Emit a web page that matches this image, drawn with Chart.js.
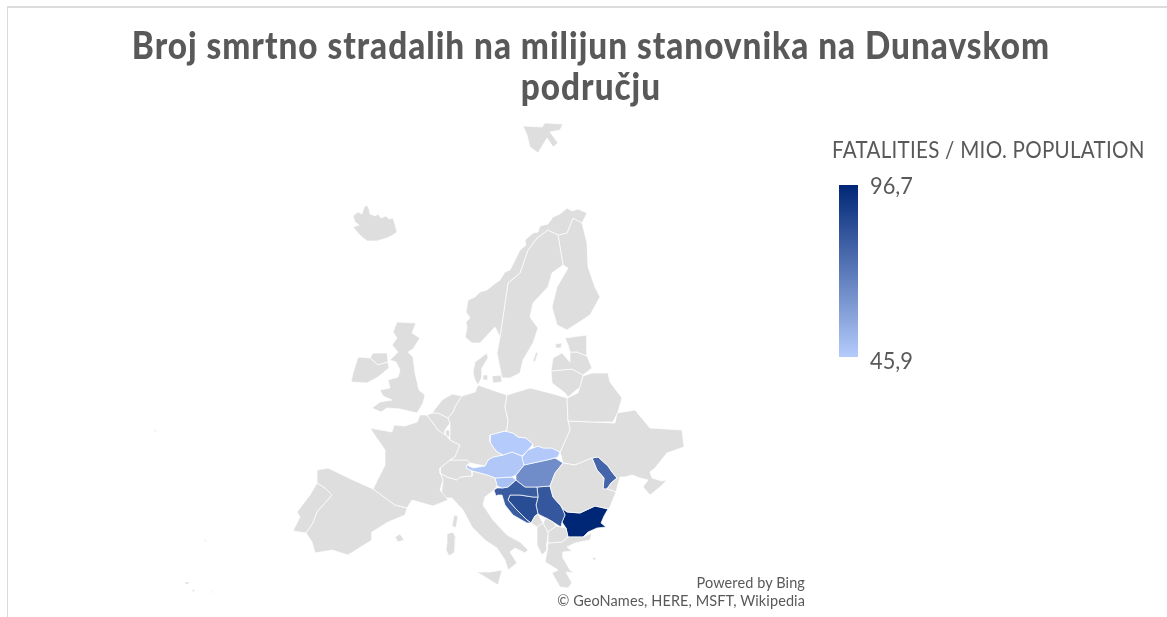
<!DOCTYPE html>
<html>
<head>
<meta charset="utf-8">
<script src="https://cdn.jsdelivr.net/npm/chart.js@4"></script>
<style>
    html, body { margin: 0; padding: 0; background: #fff; }
    #wrap { position: relative; width: 1167px; height: 617px; overflow: hidden; font-family: Lato, sans-serif; color: #595959; }
    #wrap div, #wrap h1 { position: absolute; margin: 0; white-space: nowrap; }
    #frame { left: 7px; top: 6px; width: 1160px; height: 611px; border-left: 1px solid #d9d9d9; border-top: 2px solid #dcdcdc; box-sizing: border-box; }
    #title { left: 0; width: 1182px; top: 24px; text-align: center; font-size: 37px; line-height: 41px; font-weight: 900; letter-spacing: 1.1px; transform: scaleX(0.9); transform-origin: 591px 0; }
    #legendTitle { left: 832px; top: 135px; font-size: 23px; line-height: 28px; letter-spacing: 0.3px; transform: scaleX(0.895); transform-origin: 0 0; }
    #legendBar { left: 839px; top: 185px; width: 19px; height: 172px; }
    .legendTick { left: 870px; font-size: 24px; line-height: 28px; transform: scaleX(0.91); transform-origin: 0 0; }
    #credit { right: 362px; top: 574px; text-align: right; font-size: 14.5px; line-height: 18px; letter-spacing: 0.1px; }
    canvas { position: absolute; left: 0; top: 0; filter: blur(0.4px); }
</style>
</head>
<body>
<div id="wrap">
    <canvas id="map" width="1167" height="617"></canvas>
    <div id="frame"></div>
    <h1 id="title">Broj smrtno stradalih na milijun stanovnika na Dunavskom<br>području</h1>
    <div id="legendTitle">FATALITIES / MIO. POPULATION</div>
    <div id="legendBar"></div>
    <div class="legendTick" id="tickHigh" style="top: 171px"></div>
    <div class="legendTick" id="tickLow" style="top: 346px"></div>
    <div id="credit">Powered by Bing<br>© GeoNames, HERE, MSFT, Wikipedia</div>
</div>

<script>
const danubeNames = ['Czechia', 'Slovakia', 'Austria', 'Slovenia', 'Hungary', 'Croatia', 'Bosnia', 'Serbia', 'Moldova', 'Bulgaria'];
const danubeValues = [45.9, 46.5, 47, 49, 65, 80.4, 85, 81.7, 77.4, 96.7];
const legendTicks = ['96,7', '45,9'];
const colorLow = [180, 203, 251];
const colorHigh = [0, 39, 118];
const landColor = '#dedede';

// outlines, in map units
const czechia = [[490,435],[497,433],[505,431],[513,433],[518,437],[526,438],[533,444],[528,450],[522,456],[512,452],[503,455],[497,452],[493,447],[490,442]];
const slovakia = [[533,448],[538,446],[543,448],[552,448],[560,452],[558,457],[547,460],[533,463],[524,465],[522,457],[528,450]];
const austria = [[467,465],[473,468],[485,466],[488,460],[493,457],[503,455],[512,452],[522,456],[524,465],[516,475],[512,477],[495,478],[487,475],[472,471],[466,468]];
const slovenia = [[495,478],[512,477],[516,480],[508,487],[502,488],[497,486]];
const hungary = [[524,465],[533,463],[547,460],[555,458],[563,463],[555,473],[550,486],[537,487],[525,487],[516,480],[516,475]];
const croatia = [[494,490],[497,488],[502,488],[508,487],[516,480],[525,487],[537,487],[538,497],[533,497],[520,495],[510,495],[508,500],[515,508],[527,520],[531,523],[527,523],[513,515],[505,505],[502,495],[498,495],[496,496]];
const bosnia = [[510,495],[520,495],[533,497],[538,497],[536,505],[538,514],[535,516],[531,523],[527,520],[515,508],[508,500]];
const serbia = [[537,487],[550,486],[553,497],[561,506],[562,508],[565,515],[562,522],[561,527],[553,522],[546,518],[538,514],[536,505],[538,497]];
const moldova = [[592,458],[598,457],[608,466],[612,472],[617,478],[611,483],[607,489],[603,489],[604,478],[597,470]];
const bulgaria = [[562,508],[567,512],[580,513],[595,506],[608,509],[604,516],[601,523],[606,527],[597,528],[588,532],[583,537],[568,537],[566,528],[562,522],[565,515]];

const iceland = [[353,216],[358,212],[362,214],[364,207],[367,205],[369,209],[370,214],[375,216],[378,214],[381,218],[386,216],[389,219],[393,218],[395,224],[397,232],[393,235],[387,238],[377,241],[367,241],[362,237],[358,233],[353,227],[359,225],[355,222]];
const svalbard = [[523,126],[542,127],[545,123],[563,124],[560,130],[550,132],[558,143],[553,147],[547,138],[538,153],[530,147],[527,135]];
const ireland = [[370,358],[378,365],[388,362],[389,368],[378,377],[367,383],[351,382],[353,373],[358,357]];
const ulster = [[373,353],[387,353],[388,362],[378,365],[370,358]];
const britain = [[397,322],[416,323],[412,333],[420,338],[413,349],[408,352],[413,357],[415,373],[419,390],[425,395],[423,403],[417,413],[400,409],[387,408],[381,412],[372,408],[380,402],[392,400],[383,396],[380,390],[390,388],[388,380],[398,377],[400,370],[396,362],[390,360],[398,352],[392,345],[397,338],[393,332]];
const norway = [[480,343],[472,343],[465,337],[467,328],[466,322],[470,318],[466,312],[468,300],[475,297],[480,292],[487,290],[493,285],[500,280],[505,272],[510,270],[514,262],[520,250],[526,245],[525,240],[533,233],[538,232],[540,226],[548,224],[553,217],[560,214],[567,208],[572,211],[578,209],[587,213],[582,223],[573,218],[567,233],[558,235],[548,230],[537,238],[528,250],[520,273],[508,283],[504,310],[500,337],[495,327]];
const sweden = [[548,230],[558,235],[563,265],[552,273],[548,287],[533,303],[530,317],[538,328],[533,343],[523,360],[520,373],[510,378],[502,378],[497,353],[500,337],[504,310],[508,283],[520,273],[528,250],[537,238]];
const finland = [[573,218],[582,223],[587,243],[588,267],[595,287],[600,297],[590,315],[567,330],[557,325],[552,307],[557,287],[568,268],[563,265],[558,235],[567,233]];
const estonia = [[565,338],[587,335],[587,356],[577,352],[570,352],[568,345]];
const latvia = [[553,358],[562,353],[570,362],[570,352],[577,352],[587,356],[592,368],[583,375],[572,369],[551,371]];
const lithuania = [[551,371],[572,369],[583,375],[580,387],[568,397],[565,393],[552,383]];
const belarus = [[583,376],[592,373],[608,373],[610,382],[622,398],[618,412],[613,422],[593,422],[568,421],[567,398],[578,393]];
const poland = [[507,395],[530,388],[550,393],[567,398],[568,421],[570,430],[560,452],[552,448],[543,448],[538,446],[533,448],[533,444],[526,438],[518,437],[513,433],[505,431],[507,430],[508,420],[505,407]];
const germany = [[462,396],[475,392],[478,385],[492,390],[507,395],[505,407],[508,420],[507,430],[505,431],[497,433],[490,435],[490,442],[493,447],[497,452],[503,455],[493,457],[488,460],[485,466],[470,463],[467,460],[450,460],[455,457],[460,445],[450,440],[450,430],[450,423],[448,418],[453,412],[456,405]];
const netherlands = [[432,413],[442,400],[452,394],[462,396],[456,405],[453,412],[448,418],[438,413]];
const belgium = [[427,415],[432,413],[438,413],[448,418],[450,423],[445,430],[445,435],[438,430]];
const luxembourg = [[445,430],[450,430],[450,438],[446,435]];
const france = [[370,428],[381,430],[392,432],[394,425],[405,426],[417,422],[420,415],[427,415],[438,430],[446,435],[450,440],[460,445],[455,457],[450,460],[440,468],[440,473],[443,480],[440,490],[448,500],[433,506],[412,500],[407,508],[395,505],[373,489],[385,465],[385,450],[376,437]];
const swiss = [[440,468],[450,460],[467,460],[470,463],[467,465],[466,468],[472,471],[472,476],[460,477],[457,480],[447,477],[440,473]];
const spain = [[317,470],[328,468],[353,480],[373,489],[395,505],[407,508],[405,515],[388,522],[372,532],[372,540],[348,555],[332,550],[315,553],[312,542],[306,533],[313,523],[317,512],[325,503],[332,495],[325,488],[317,483]];
const portugal = [[317,483],[325,488],[332,495],[325,503],[317,512],[313,523],[306,533],[293,531],[300,517],[297,512],[310,495]];
const italy = [[441,498],[443,480],[440,473],[447,477],[457,480],[460,477],[472,476],[472,471],[487,475],[495,478],[497,486],[494,490],[485,497],[483,505],[493,520],[507,535],[520,542],[528,550],[525,553],[515,548],[510,552],[517,563],[508,570],[505,560],[497,548],[485,540],[472,527],[463,510],[452,498]];
const sicily = [[477,572],[490,572],[502,570],[498,585],[485,577]];
const sardinia = [[447,534],[453,532],[456,538],[455,552],[449,556],[446,550],[447,542]];
const corsica = [[454,515],[458,516],[456,528],[452,526]];
const romania = [[563,463],[575,465],[592,458],[597,470],[604,478],[603,489],[607,489],[616,492],[609,509],[595,506],[580,513],[567,512],[562,508],[561,506],[553,497],[550,486],[555,473]];
const ukraine = [[568,421],[593,422],[615,423],[617,413],[635,410],[650,428],[682,430],[684,447],[667,453],[655,468],[650,472],[652,478],[662,481],[667,480],[660,487],[650,495],[643,487],[648,480],[640,478],[632,475],[625,477],[620,477],[616,492],[607,489],[611,483],[617,478],[612,472],[608,466],[598,457],[592,458],[575,465],[563,463],[560,452],[570,430]];
const montenegro = [[531,523],[535,516],[538,514],[543,523],[537,527]];
const kosovo = [[543,523],[546,518],[553,522],[556,526],[548,532]];
const albania = [[537,527],[543,523],[548,532],[547,543],[547,550],[542,555],[537,545]];
const macedonia = [[548,532],[556,526],[561,527],[566,528],[568,537],[562,542],[548,543]];
const greece = [[547,552],[548,543],[562,542],[568,537],[583,537],[592,533],[590,540],[575,543],[567,547],[572,551],[563,552],[563,558],[570,570],[574,573],[566,572],[572,583],[568,588],[560,587],[552,573],[558,570],[545,562]];
const denmark = [[475,362],[487,353],[488,358],[482,368],[482,377],[478,385],[475,380],[473,373]];
const zealand = [[492,376],[501,375],[502,382],[493,383]];
const funen = [[483,375],[488,375],[488,380],[483,380]];
const gotland = [[536,352],[538,353],[535,362],[533,361]];
const saaremaa = [[555,344],[562,343],[561,348],[556,348]];
const mallorca = [[395,537],[400,534],[404,540],[398,542]];
const lesbos = [[592,558],[596,557],[595,561]];
const azores = [[154,429],[157,431],[155,432]];
const madeira = [[204,539],[207,541],[205,542]];
const tenerife = [[184,582],[190,582],[187,585]];
const canaria = [[192,589],[195,590],[193,593]];
const fuerteventura = [[208,594],[213,590],[212,592]];

const landOutlines = [iceland, svalbard, ireland, ulster, britain, norway, sweden, finland, estonia, latvia, lithuania, belarus, poland, germany, netherlands, belgium, luxembourg, france, swiss, spain, portugal, italy, sicily, sardinia, corsica, romania, ukraine, montenegro, kosovo, albania, macedonia, greece, denmark, zealand, funen, gotland, saaremaa, mallorca, lesbos, azores, madeira, tenerife, canaria, fuerteventura];
const danubeOutlines = [czechia, slovakia, austria, slovenia, hungary, croatia, bosnia, serbia, moldova, bulgaria];

const minValue = Math.min(...danubeValues);
const maxValue = Math.max(...danubeValues);

function shade(value) {
    const t = (value - minValue) / (maxValue - minValue);
    const rgb = colorLow.map((c, i) => Math.round(c + (colorHigh[i] - c) * t));
    return `rgb(${rgb.join(',')})`;
}

function outlineDataset(label, points, color) {
    return {
        label: label,
        data: points.concat([points[0]]).map(p => ({ x: p[0], y: p[1] })),
        showLine: true,
        fill: 'shape',
        backgroundColor: color,
        borderColor: '#ffffff',
        borderWidth: 0.7,
        pointRadius: 0,
        tension: 0
    };
}

const datasets = landOutlines.map((o, i) => outlineDataset('land ' + i, o, landColor))
    .concat(danubeOutlines.map((o, i) => outlineDataset(danubeNames[i], o, shade(danubeValues[i]))));

new Chart(document.getElementById('map'), {
    type: 'scatter',
    data: { datasets: datasets },
    options: {
        responsive: false,
        animation: false,
        layout: { padding: 0 },
        plugins: {
            legend: { display: false },
            tooltip: { enabled: false }
        },
        scales: {
            x: { type: 'linear', display: false, min: 0, max: 1167 },
            y: { type: 'linear', display: false, min: 0, max: 617, reverse: true }
        }
    }
});

// colour scale legend
document.getElementById('legendBar').style.background =
    `linear-gradient(to bottom, ${shade(maxValue)}, ${shade(minValue)})`;
document.getElementById('tickHigh').textContent = legendTicks[0];
document.getElementById('tickLow').textContent = legendTicks[1];
</script>
</body>
</html>
